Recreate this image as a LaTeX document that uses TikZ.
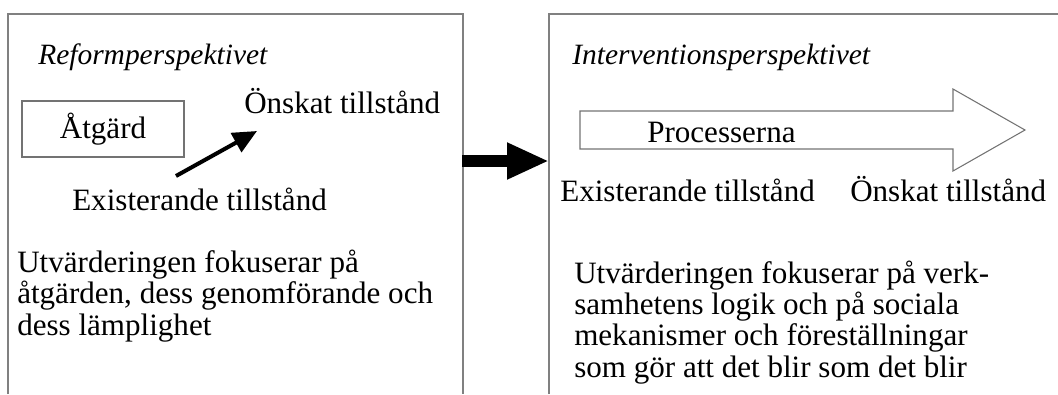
\documentclass[tikz,border=0pt]{standalone}
\usepackage{fontspec}
\setmainfont{Liberation Serif}
\usepackage{tikz}
\usetikzlibrary{arrows.meta}

\begin{document}
\begin{tikzpicture}[x=0.75pt, y=-0.75pt,
        txt/.style={inner sep=0pt, anchor=base west, font=\fontsize{23.3}{23.3}\selectfont},
        rubrik/.style={inner sep=0pt, anchor=base west, font=\fontsize{22.1}{22.1}\selectfont\itshape},
        ram/.style={draw=black!50, line width=1pt},
        linje/.style={draw=black!55, line width=0.8pt}]
        \useasboundingbox (0,0) rectangle (1058,394);
        % ramarna
        \draw[ram] (8,394) -- (8,14) -- (463,14) -- (463,394);
        \draw[ram] (549,394) -- (549,14) -- (1058,14);
        % reformperspektivet
        \node[rubrik] (refrub) at (38,64) {Reformperspektivet};
        \node[linje, inner sep=0pt, minimum width=121.5pt, minimum height=42pt,
              font=\fontsize{23.3}{23.3}\selectfont] (atgard) at (103,129) {Åtgärd};
        \node[txt] (onskatV) at (244,113) {Önskat tillstånd};
        \node[txt] (existV) at (72,210) {Existerande tillstånd};
        \coordinate (fran) at (176,176);
        \coordinate (till) at (257,131);
        \draw[-{Triangle[length=18pt,width=16pt]}, line width=3pt] (fran) -- (till);
        % base = sista radens baslinje
        \node[txt, align=left] (utvV) at (17,335)
            {Utvärderingen fokuserar på\\åtgärden, dess genomförande och\\dess lämplighet};
        % pilen mellan rutorna
        \coordinate (ut) at (462,161);
        \coordinate (in) at (549,161);
        \draw[-{Triangle[length=31.5pt,width=25.5pt]}, line width=9pt] (ut) -- (in);
        % interventionsperspektivet
        \node[rubrik] (intrub) at (572,64) {Interventionsperspektivet};
        \draw[linje] (580,111) -- (953,111) -- (953,89) -- (1025,130)
            -- (953,171) -- (953,149) -- (580,149) -- cycle;
        \node[txt] (proc) at (647,142) {Processerna};
        \node[txt] (existH) at (560,201) {Existerande tillstånd};
        \node[txt] (onskatH) at (850,201) {Önskat tillstånd};
        \node[txt, align=left] (utvH) at (574,377)
            {Utvärderingen fokuserar på verk-\\samhetens logik och på sociala\\mekanismer och föreställningar\\som gör att det blir som det blir};
\end{tikzpicture}
\end{document}
